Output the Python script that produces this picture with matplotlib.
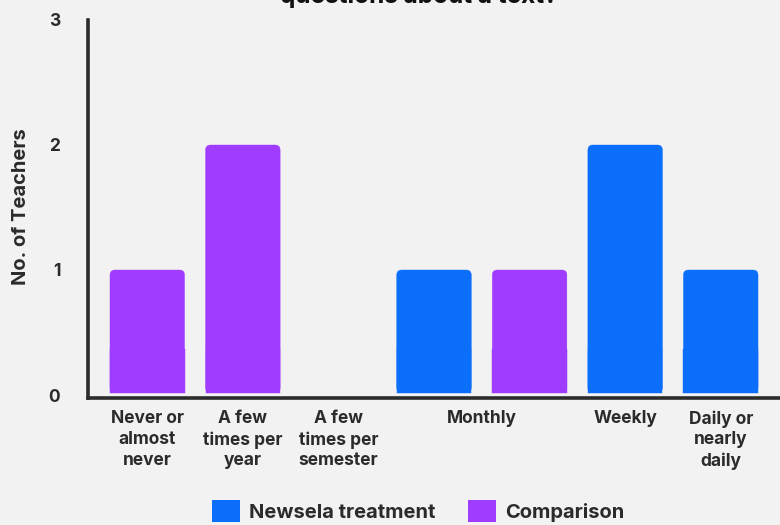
import matplotlib
matplotlib.use("Agg")
import matplotlib.pyplot as plt
from matplotlib.patches import FancyBboxPatch, Rectangle, Patch

# ---- data ----
categories = ["Never or\nalmost\nnever", "A few\ntimes per\nyear", "A few\ntimes per\nsemester",
              "Monthly", "Weekly", "Daily or\nnearly\ndaily"]
newsela = [0, 0, 0, 1, 2, 1]
comparison = [1, 2, 0, 1, 0, 0]
series_names = ["Newsela treatment", "Comparison"]
yticks = [0, 1, 2, 3]
title = "questions about a text?"
ylabel = "No. of Teachers"

BLUE = "#0b6ffb"
PURPLE = "#a03cff"
BG = "#f2f2f2"
TXT = "#2b2b2b"
FAM = ['Inter', 'DejaVu Sans']

plt.rcParams['font.family'] = FAM
plt.rcParams['font.weight'] = 'bold'

fig = plt.figure(figsize=(7.8, 5.25), dpi=100, facecolor=BG)
ax = fig.add_axes([88/780, 1-397.5/525, 1-88/780, (397.5-20)/525])
ax.set_facecolor(BG)

# slot positions: only non-zero bars get a slot, empty categories get one empty slot
bar_x, bar_h, bar_c = [], [], []
label_pos = []
slot = 0
for i, cat in enumerate(categories):
    start = slot
    vals = [(newsela[i], BLUE), (comparison[i], PURPLE)]
    nz = [(v, c) for v, c in vals if v > 0]
    if not nz:
        label_pos.append(slot)
        slot += 1
        continue
    for v, c in nz:
        bar_x.append(slot)
        bar_h.append(v)
        bar_c.append(c)
        slot += 1
    label_pos.append((start + slot - 1) / 2)

width = 0.78
bars = ax.bar(bar_x, bar_h, width=width, bottom=0.02, color=bar_c)
px_x = (780 - 88) / 7.24
px_y = 125.0
r = 5.0
for b in bars:
    b.set_visible(False)
    x0, y0, w, h = b.get_x(), b.get_y(), b.get_width(), b.get_height()
    h = h - 0.02
    col = b.get_facecolor()
    rx = r / px_x
    ry = r / px_y
    fb = FancyBboxPatch((x0 + rx, y0 + ry), w - 2*rx, h - 2*ry,
                        boxstyle=f"round,pad={rx},rounding_size={rx}",
                        mutation_aspect=ry/rx, facecolor=col, edgecolor=col, linewidth=0.3)
    ax.add_patch(fb)
    ax.add_patch(Rectangle((x0, y0), w, 0.35, facecolor=col, edgecolor=col, linewidth=0.3))

ax.set_xlim(-0.62, slot - 1 + 0.62)
ax.set_ylim(-0.02, 3)
ax.set_yticks(yticks)
ax.set_yticklabels([str(t) for t in yticks], fontsize=12.5, fontweight='bold', color=TXT)
ax.set_xticks(label_pos)
ax.set_xticklabels(categories, fontsize=12.5, fontweight='bold', color=TXT, linespacing=1.3, va='top')
ax.tick_params(axis='y', length=0, pad=20)
ax.tick_params(axis='x', length=0, pad=9)

for s in ['top', 'right']:
    ax.spines[s].set_visible(False)
for s in ['left', 'bottom']:
    ax.spines[s].set_linewidth(2.6)
    ax.spines[s].set_color(TXT)

fig.text(21/780, 1-207/525, ylabel, rotation=90, ha='center', va='center',
         fontsize=14.5, fontweight='bold', color=TXT)
fig.text(419/780, 1-3/525, title, ha='center', va='baseline',
         fontsize=17.5, fontweight='bold', color='#111111')

handles = [Patch(facecolor=BLUE, edgecolor='none'), Patch(facecolor=PURPLE, edgecolor='none')]
leg = fig.legend(handles, series_names, loc='center', bbox_to_anchor=(418/780, 1-511/525),
                 ncol=2, frameon=False, prop={'family': FAM, 'weight': 'bold', 'size': 14.5},
                 handlelength=1.4, handleheight=1.35, handletextpad=0.45, columnspacing=1.6)
for t in leg.get_texts():
    t.set_color(TXT)

fig.savefig("out.png", dpi=100, facecolor=BG)
